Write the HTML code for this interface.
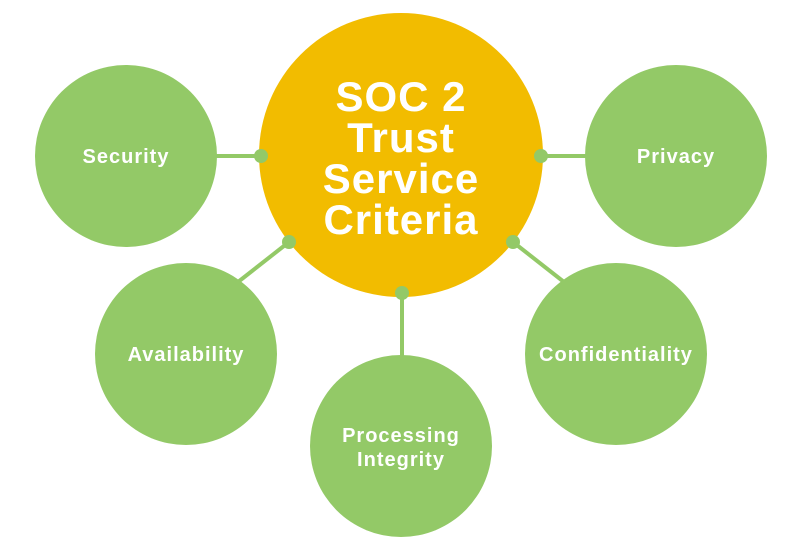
<!DOCTYPE html>
<html><head><meta charset="utf-8"><style>
html,body{margin:0;padding:0;background:#fff;}
svg{display:block;}
text{font-family:"Liberation Sans",sans-serif;font-weight:bold;fill:#fff;text-anchor:middle;}
</style></head><body>
<svg width="802" height="553" viewBox="0 0 802 553" xmlns="http://www.w3.org/2000/svg">
<g stroke="#93c967" stroke-width="4">
<line x1="210" y1="156" x2="261" y2="156"/>
<line x1="541" y1="156" x2="590" y2="156"/>
<line x1="289" y1="242" x2="238" y2="282"/>
<line x1="513" y1="242" x2="564" y2="282"/>
<line x1="402" y1="293" x2="402" y2="360"/>
</g>
<g fill="#93c967">
<circle cx="126" cy="156" r="91"/>
<circle cx="676" cy="156" r="91"/>
<circle cx="186" cy="354" r="91"/>
<circle cx="616" cy="354" r="91"/>
<circle cx="401" cy="446" r="91"/>
</g>
<circle cx="401" cy="155" r="142" fill="#f2bc00"/>
<g fill="#93c967">
<circle cx="261" cy="156" r="7"/>
<circle cx="541" cy="156" r="7"/>
<circle cx="289" cy="242" r="7"/>
<circle cx="513" cy="242" r="7"/>
<circle cx="402" cy="293" r="7"/>
</g>
<g font-size="42" letter-spacing="1">
<text x="401" y="111">SOC 2</text>
<text x="401" y="152">Trust</text>
<text x="401" y="193">Service</text>
<text x="401" y="234">Criteria</text>
</g>
<g font-size="20" letter-spacing="1">
<text x="126" y="163">Security</text>
<text x="676" y="163">Privacy</text>
<text x="186" y="361">Availability</text>
<text x="616" y="361">Confidentiality</text>
<text x="401" y="442">Processing</text>
<text x="401" y="466">Integrity</text>
</g>
</svg>
</body></html>
